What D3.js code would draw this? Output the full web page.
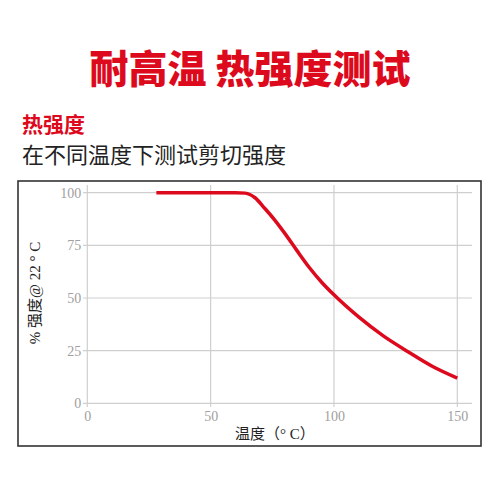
<!DOCTYPE html>
<html><head><meta charset="utf-8">
<script src="https://cdn.jsdelivr.net/npm/d3@7/dist/d3.min.js"></script>
<style>body{margin:0;background:#fff}svg{display:block}</style>
</head><body>
<svg id="c" width="500" height="500"></svg>
<script>
const temps =    [28, 40, 50, 60, 64, 68, 72, 76, 80, 85, 90, 95, 100, 110, 120, 130, 140, 150];
const strength = [100,100,100,100,99.8,97.6,92.5,87,80.8,72.5,64.5,57.5,51.5,41,32,24.5,17.5,12];
const xTicks = [0, 50, 100, 150];
const yTicks = [0, 25, 50, 75, 100];
const title = "耐高温 热强度测试";
const subtitle = "热强度";
const desc = "在不同温度下测试剪切强度";
const xLabel = "温度（° C）";
const yLabel = "% 强度@ 22 ° C";

const svg = d3.select("#c");
const red = "#dd0a1e";
const serif = "'Liberation Serif','DejaVu Serif','Noto Sans CJK SC',serif";
const cjk = "'Noto Sans CJK SC','Noto Sans',sans-serif";

svg.append("text").attr("x", 250).attr("y", 83).attr("text-anchor", "middle")
  .attr("font-family", cjk).attr("font-weight", 900).attr("font-size", 39)
  .attr("fill", red).text(title);
svg.append("text").attr("x", 22).attr("y", 132)
  .attr("font-family", cjk).attr("font-weight", 700).attr("font-size", 21)
  .attr("fill", red).text(subtitle);
svg.append("text").attr("x", 22).attr("y", 163)
  .attr("font-family", cjk).attr("font-weight", 400).attr("font-size", 22)
  .attr("fill", "#222").text(desc);

// frame
svg.append("rect").attr("x", 18).attr("y", 181).attr("width", 463).attr("height", 265)
  .attr("fill", "none").attr("stroke", "#333").attr("stroke-width", 1.6);

const x = d3.scaleLinear().domain([0, 150]).range([87.3, 457.3]);
const y = d3.scaleLinear().domain([0, 100]).range([403.3, 192.7]);

// grid
const g = svg.append("g");
g.selectAll(".hg").data(yTicks).join("line")
  .attr("x1", 83).attr("x2", 472).attr("y1", d => y(d)).attr("y2", d => y(d))
  .attr("stroke", "#cfcfcf").attr("stroke-width", 1.2);
g.selectAll(".vg").data(xTicks).join("line")
  .attr("x1", d => x(d)).attr("x2", d => x(d)).attr("y1", 185).attr("y2", 407)
  .attr("stroke", "#cfcfcf").attr("stroke-width", 1.2);

// axes labels via d3 axes
const yAxis = svg.append("g").attr("transform", `translate(${x(0)},0)`)
  .call(d3.axisLeft(y).tickValues(yTicks).tickSize(0).tickPadding(6));
const xAxis = svg.append("g").attr("transform", `translate(0,${y(0)})`)
  .call(d3.axisBottom(x).tickValues(xTicks).tickSize(0).tickPadding(8));
[yAxis, xAxis].forEach(a => {
  a.select(".domain").remove();
  a.selectAll("text").attr("font-family", serif).attr("font-size", 14).attr("fill", "#a0a0a0");
});

// curve
const line = d3.line().x((d, i) => x(temps[i])).y(d => y(d)).curve(d3.curveMonotoneX);
svg.append("path").datum(strength).attr("d", line)
  .attr("fill", "none").attr("stroke", red).attr("stroke-width", 3.5)
  .attr("stroke-linejoin", "round");

// axis titles
svg.append("text").attr("x", 275).attr("y", 439).attr("text-anchor", "middle")
  .attr("font-family", serif).attr("font-size", 15).attr("fill", "#222").text(xLabel);
svg.append("text").attr("transform", "translate(40,293) rotate(-90)").attr("text-anchor", "middle")
  .attr("font-family", serif).attr("font-size", 15).attr("fill", "#222").text(yLabel);
</script>
</body></html>
